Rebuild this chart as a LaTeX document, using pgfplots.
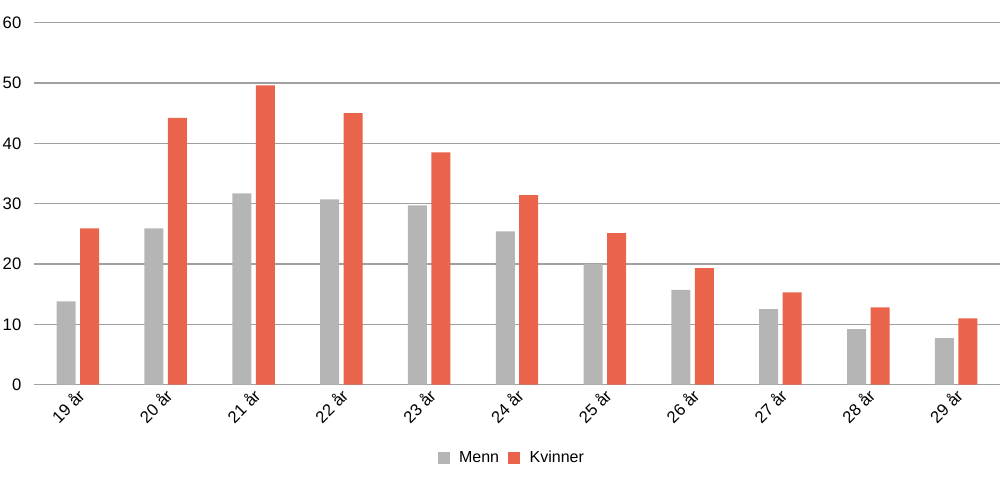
\documentclass[border=0pt]{standalone}
\usepackage{pgfplots}
\pgfplotsset{compat=1.18}
\usepackage{fontspec}
\setmainfont{Liberation Sans}
\definecolor{menn}{RGB}{181,181,181}
\definecolor{kvinner}{RGB}{234,100,75}
\definecolor{gridc}{RGB}{160,160,160}
\begin{document}
\begin{tikzpicture}
\begin{axis}[
  name=ax,
  scale only axis,
  width=724.5pt, height=271.5pt,
  ymin=0, ymax=60,
  ytick={0,10,...,60},
  xmin=-0.5, xmax=10.5,
  xtick={0,...,10},
  xticklabels={19 år,20 år,21 år,22 år,23 år,24 år,25 år,26 år,27 år,28 år,29 år},
  xticklabel style={rotate=45, anchor=east, xshift=1pt, yshift=-6pt},
  major tick length=0pt,
  axis x line*=bottom,
  axis y line*=left,
  x axis line style={draw=gridc, line width=1.2pt, -},
  y axis line style={draw=none},
  ymajorgrids,
  grid style={draw=gridc, line width=0.8pt},
  yticklabel style={xshift=-6pt},
  ticklabel style={font=\fontsize{12.5}{14}\selectfont},
  /pgf/number format/assume math mode=true,
  ybar, bar width=14.25pt, bar shift=0pt,
  legend style={at={(0.495,-0.168)}, anchor=north, draw=none, legend columns=2,
    font=\fontsize{12}{14}\selectfont, column sep=5pt},
  legend image code/.code={\path[#1] (0pt,-4.5pt) rectangle (9pt,4.5pt);},
]
\addplot[fill=menn, draw=none, bar shift=-8.8pt] coordinates {
 (0,13.8) (1,25.9) (2,31.7) (3,30.7) (4,29.7) (5,25.4) (6,20.0) (7,15.7) (8,12.5) (9,9.2) (10,7.7)};
\addplot[fill=kvinner, draw=none, bar shift=8.8pt] coordinates {
 (0,25.9) (1,44.2) (2,49.6) (3,45.0) (4,38.5) (5,31.4) (6,25.1) (7,19.3) (8,15.3) (9,12.8) (10,11.0)};
\legend{Menn,Kvinner}
\end{axis}
\pgfresetboundingbox
\path ([xshift=-25.5pt, yshift=17pt]ax.north west) rectangle ([yshift=-72.75pt]ax.south east);
\end{tikzpicture}
\end{document}
